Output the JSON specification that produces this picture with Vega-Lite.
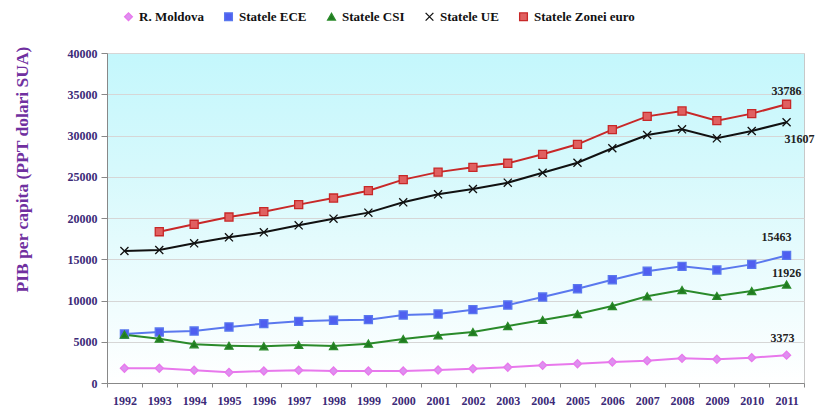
{
  "$schema": "https://vega.github.io/schema/vega-lite/v6.json",
  "width": 697,
  "height": 330,
  "autosize": {"type": "none"},
  "padding": {"left": 107, "top": 53, "right": 12, "bottom": 25},
  "background": "white",
  "config": {
    "font": "Liberation Serif",
    "view": {
      "stroke": "#c8c8c8",
      "fill": {"gradient": "linear", "x1": 0, "y1": 0, "x2": 0, "y2": 1,
        "stops": [{"offset": 0, "color": "#c4f7fc"}, {"offset": 0.35, "color": "#d6f9fc"}, {"offset": 1, "color": "#ffffff"}]}
    },
    "legend": {
      "title": null, "orient": "none", "legendX": 15, "legendY": -43, "direction": "horizontal",
      "labelFont": "Liberation Serif", "labelFontWeight": "bold", "labelFontSize": 13,
      "labelColor": "#111111", "symbolSize": 60, "columnPadding": 18, "labelOffset": 4,
      "symbolStrokeWidth": 1.3
    }
  },
  "data": {"values": [
    {"year": "1992", "MD": 1780, "ECE": 5940, "CSI": 5860, "UE": 16000, "EURO": null},
    {"year": "1993", "MD": 1780, "ECE": 6180, "CSI": 5370, "UE": 16120, "EURO": 18340},
    {"year": "1994", "MD": 1540, "ECE": 6300, "CSI": 4690, "UE": 16930, "EURO": 19240},
    {"year": "1995", "MD": 1290, "ECE": 6790, "CSI": 4520, "UE": 17660, "EURO": 20120},
    {"year": "1996", "MD": 1450, "ECE": 7190, "CSI": 4440, "UE": 18260, "EURO": 20770},
    {"year": "1997", "MD": 1540, "ECE": 7470, "CSI": 4610, "UE": 19110, "EURO": 21620},
    {"year": "1998", "MD": 1450, "ECE": 7600, "CSI": 4480, "UE": 19920, "EURO": 22420},
    {"year": "1999", "MD": 1450, "ECE": 7680, "CSI": 4770, "UE": 20650, "EURO": 23310},
    {"year": "2000", "MD": 1450, "ECE": 8240, "CSI": 5330, "UE": 21900, "EURO": 24650},
    {"year": "2001", "MD": 1580, "ECE": 8360, "CSI": 5780, "UE": 22870, "EURO": 25560},
    {"year": "2002", "MD": 1730, "ECE": 8890, "CSI": 6180, "UE": 23520, "EURO": 26140},
    {"year": "2003", "MD": 1900, "ECE": 9450, "CSI": 6910, "UE": 24280, "EURO": 26630},
    {"year": "2004", "MD": 2140, "ECE": 10420, "CSI": 7640, "UE": 25490, "EURO": 27720},
    {"year": "2005", "MD": 2340, "ECE": 11430, "CSI": 8360, "UE": 26700, "EURO": 28930},
    {"year": "2006", "MD": 2550, "ECE": 12520, "CSI": 9330, "UE": 28450, "EURO": 30710},
    {"year": "2007", "MD": 2700, "ECE": 13540, "CSI": 10510, "UE": 30060, "EURO": 32320},
    {"year": "2008", "MD": 2990, "ECE": 14140, "CSI": 11270, "UE": 30750, "EURO": 32970},
    {"year": "2009", "MD": 2870, "ECE": 13700, "CSI": 10550, "UE": 29660, "EURO": 31800},
    {"year": "2010", "MD": 3070, "ECE": 14380, "CSI": 11150, "UE": 30550, "EURO": 32650},
    {"year": "2011", "MD": 3373, "ECE": 15463, "CSI": 11926, "UE": 31607, "EURO": 33786}
  ]},
  "transform": [
    {"fold": ["MD", "ECE", "CSI", "UE", "EURO"], "as": ["code", "value"]},
    {"filter": "isValid(datum.value)"},
    {"lookup": "code", "from": {"data": {"values": [
      {"code": "MD", "series": "R. Moldova"},
      {"code": "ECE", "series": "Statele ECE"},
      {"code": "CSI", "series": "Statele CSI"},
      {"code": "UE", "series": "Statele UE"},
      {"code": "EURO", "series": "Statele Zonei euro"}
    ]}, "key": "code", "fields": ["series"]}}
  ],
  "encoding": {
    "x": {
      "field": "year", "type": "ordinal",
      "scale": {"paddingInner": 0, "paddingOuter": 0},
      "axis": {
        "title": null, "labelAngle": 0, "labelFont": "Liberation Serif", "labelFontWeight": "bold",
        "labelFontSize": 12, "labelColor": "#3c2a78", "tickBand": "extent", "tickColor": "#888888",
        "domainColor": "#888888", "tickSize": 4, "labelPadding": 8, "grid": false
      }
    },
    "y": {
      "field": "value", "type": "quantitative",
      "scale": {"domain": [0, 40000]},
      "axis": {
        "title": "PIB per capita  (PPT dolari  SUA)",
        "values": [0, 5000, 10000, 15000, 20000, 25000, 30000, 35000, 40000],
        "format": "d", "grid": true, "gridColor": "#d6d6d6",
        "labelFont": "Liberation Serif", "labelFontWeight": "bold", "labelFontSize": 12,
        "labelColor": "#3c2a78", "tickColor": "#888888", "domainColor": "#888888",
        "tickSize": 6, "labelPadding": 4,
        "titleFont": "Liberation Serif", "titleFontWeight": "bold", "titleFontSize": 17.5,
        "titleColor": "#7030a0", "titleX": -85, "titleY": 116, "titleAlign": "center",
        "titleBaseline": "middle", "titleAngle": -90
      }
    }
  },
  "layer": [
    {
      "mark": {"type": "line", "strokeWidth": 2},
      "encoding": {
        "stroke": {
          "field": "series", "type": "nominal",
          "scale": {
            "domain": ["R. Moldova", "Statele ECE", "Statele CSI", "Statele UE", "Statele Zonei euro"],
            "range": ["#e878ec", "#5a78ee", "#2a8a2a", "#111111", "#c82828"]
          },
          "legend": {"labelFont": "Liberation Serif", "labelFontWeight": "bold", "labelFontSize": 13}
        }
      }
    },
    {
      "mark": {"type": "point", "filled": true, "size": 65, "strokeWidth": 1.3, "opacity": 1},
      "encoding": {
        "fill": {
          "field": "series", "type": "nominal",
          "scale": {
            "domain": ["R. Moldova", "Statele ECE", "Statele CSI", "Statele UE", "Statele Zonei euro"],
            "range": ["#dd90f0", "#4f5ff0", "#1f7a1f", "#111111", "#e06060"]
          },
          "legend": {"labelFont": "Liberation Serif", "labelFontWeight": "bold", "labelFontSize": 13}
        },
        "stroke": {"field": "series", "type": "nominal"},
        "shape": {
          "field": "series", "type": "nominal",
          "scale": {
            "domain": ["R. Moldova", "Statele ECE", "Statele CSI", "Statele UE", "Statele Zonei euro"],
            "range": ["diamond", "square", "triangle-up", "M-1,-1L1,1M-1,1L1,-1", "square"]
          },
          "legend": {"labelFont": "Liberation Serif", "labelFontWeight": "bold", "labelFontSize": 13}
        }
      }
    },
    {
      "transform": [{"filter": "datum.year == '2011' && datum.code == 'EURO'"}],
      "mark": {"type": "text", "font": "Liberation Serif", "fontWeight": "bold", "fontSize": 12, "color": "#222222", "dy": -13},
      "encoding": {"text": {"field": "value", "type": "quantitative", "format": "d"}}
    },
    {
      "transform": [{"filter": "datum.year == '2011' && datum.code == 'UE'"}],
      "mark": {"type": "text", "font": "Liberation Serif", "fontWeight": "bold", "fontSize": 12, "color": "#222222", "dy": 17, "dx": 13},
      "encoding": {"text": {"field": "value", "type": "quantitative", "format": "d"}}
    },
    {
      "transform": [{"filter": "datum.year == '2011' && datum.code == 'ECE'"}],
      "mark": {"type": "text", "font": "Liberation Serif", "fontWeight": "bold", "fontSize": 12, "color": "#222222", "dy": -18, "dx": -10},
      "encoding": {"text": {"field": "value", "type": "quantitative", "format": "d"}}
    },
    {
      "transform": [{"filter": "datum.year == '2011' && datum.code == 'CSI'"}],
      "mark": {"type": "text", "font": "Liberation Serif", "fontWeight": "bold", "fontSize": 12, "color": "#222222", "dy": -12},
      "encoding": {"text": {"field": "value", "type": "quantitative", "format": "d"}}
    },
    {
      "transform": [{"filter": "datum.year == '2011' && datum.code == 'MD'"}],
      "mark": {"type": "text", "font": "Liberation Serif", "fontWeight": "bold", "fontSize": 12, "color": "#222222", "dy": -17, "dx": -4},
      "encoding": {"text": {"field": "value", "type": "quantitative", "format": "d"}}
    }
  ]
}
